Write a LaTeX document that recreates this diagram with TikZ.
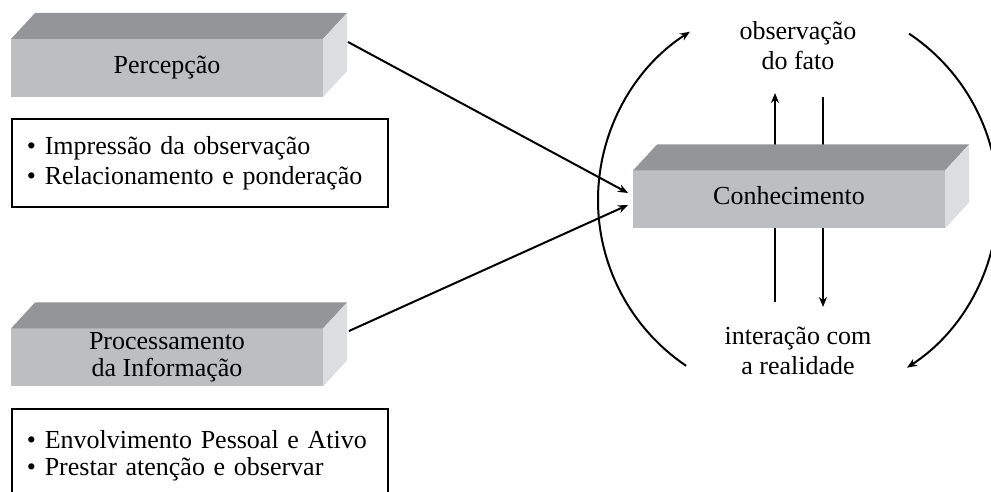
\documentclass[tikz,border=0pt]{standalone}
\usepackage{fontspec}
\setmainfont{Liberation Serif}
\usetikzlibrary{calc,arrows.meta}
\definecolor{frontgray}{RGB}{189,190,192}
\definecolor{topgray}{RGB}{147,149,152}
\definecolor{sidegray}{RGB}{220,221,223}
\begin{document}
\begin{tikzpicture}[x=1pt,y=1pt,
  face/.style={rectangle,fill=frontgray,minimum width=312pt,minimum height=58pt,inner sep=0pt,outer sep=0pt,font=\fontsize{26}{27}\selectfont,align=center},
  oneline/.style={text height=17pt,text depth=6pt},
  listbox/.style={rectangle,draw=black,line width=1.2pt,minimum width=376pt,inner xsep=15pt,inner ysep=0pt,text width=346pt,align=left,font=\fontsize{26}{30}\selectfont},
  lab/.style={font=\fontsize{26}{30}\selectfont,align=center,inner sep=0pt},
  conn/.style={line width=2pt,-{Stealth[length=10pt,width=8pt]}},
  plain/.style={line width=2pt}]
\useasboundingbox (0,0) rectangle (991,492);

% vertical arrows behind Conhecimento
\coordinate (upS) at (775,190);
\coordinate (upE) at (775,399);
\coordinate (dnS) at (823,395);
\coordinate (dnE) at (823,185);
\draw[conn] (upS) -- (upE);
\draw[conn] (dnS) -- (dnE);

% boxes
\node[face,oneline] (P) at (167,424) {Percepção};
\node[face] (I) at (167,134.5) {Processamento\\da Informação};
\node[face,oneline] (C) at (789,292.5) {Conhecimento};
\foreach \n in {P,I,C}{
  \fill[topgray] (\n.north west) -- ++(24,26) -- ($(\n.north east)+(24,26)$) -- (\n.north east) -- cycle;
  \fill[sidegray] (\n.north east) -- ++(24,26) -- ($(\n.south east)+(24,26)$) -- (\n.south east) -- cycle;
}

% list boxes
\node[listbox,minimum height=88pt] (L1) at (200,329) {\textbullet\ Impressão da observação\\\textbullet\ Relacionamento e ponderação};
\node[listbox,minimum height=93pt,font=\fontsize{26}{27}\selectfont] (L2) at (200,36.5) {\textbullet\ Envolvimento Pessoal e Ativo\\\textbullet\ Prestar atenção e observar};

% connectors to Conhecimento
\coordinate (a1s) at (348,450);
\coordinate (a1e) at (628,299);
\coordinate (a2s) at (349,161);
\coordinate (a2e) at (628,287);
\draw[conn] (a1s) -- (a1e);
\draw[conn] (a2s) -- (a2e);

% labels
\node[lab,anchor=base] (obs) at (798,452) {observação};
\node[lab,anchor=base] (fato) at (798,422) {do fato};
\node[lab,anchor=base] (inter) at (798,147) {interação com};
\node[lab,anchor=base] (real) at (798,117) {a realidade};

% cycle arcs
\coordinate (cc) at (798,292);
\draw[conn] ($(cc)+(236:200)$) arc[start angle=236,end angle=122.7,radius=200];
\draw[conn] ($(cc)+(56.3:200)$) arc[start angle=56.3,end angle=-57,radius=200];
\end{tikzpicture}
\end{document}
